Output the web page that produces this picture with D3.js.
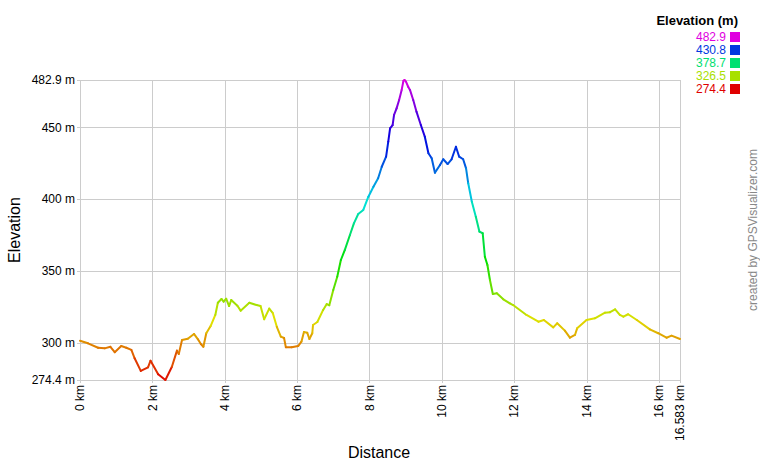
<!DOCTYPE html>
<html><head><meta charset="utf-8">
<script src="https://cdn.jsdelivr.net/npm/d3@7"></script>
<style>body{margin:0;background:#fff}svg{display:block;font-family:Arial,"Liberation Sans",sans-serif}</style>
</head><body><svg id="c" width="760" height="460"></svg>
<script>
const distKm = [0,0.22,0.50,0.68,0.84,0.96,1.14,1.28,1.42,1.51,1.68,1.88,1.95,2.16,2.36,2.54,2.68,2.73,2.82,2.98,3.15,3.26,3.34,3.41,3.49,3.61,3.74,3.81,3.91,3.97,4.04,4.12,4.18,4.35,4.44,4.68,4.88,4.99,5.09,5.23,5.33,5.44,5.55,5.64,5.69,5.85,6.03,6.12,6.19,6.28,6.34,6.42,6.44,6.56,6.72,6.82,6.89,7.00,7.11,7.21,7.32,7.46,7.57,7.69,7.83,7.97,8.11,8.24,8.34,8.46,8.52,8.57,8.64,8.68,8.75,8.82,8.89,8.94,8.97,9.01,9.07,9.12,9.21,9.30,9.42,9.53,9.63,9.72,9.81,9.95,10.04,10.16,10.27,10.39,10.48,10.59,10.67,10.73,10.83,10.94,11.04,11.13,11.19,11.26,11.33,11.41,11.52,11.70,11.88,11.97,12.34,12.67,12.82,13.08,13.19,13.40,13.54,13.68,13.74,14.00,14.23,14.51,14.65,14.79,14.92,15.02,15.15,15.39,15.75,15.98,16.21,16.35,16.583];
const elevM = [301.7,299.9,296.8,296.4,297.5,293.7,298.0,296.8,295.3,289.5,280.7,283.2,287.8,278.4,274.4,283.6,294.8,292.5,302.2,303.1,306.4,302.7,299.4,297.5,306.9,311.9,319.6,328.1,330.7,328.8,330.9,325.8,330.0,326.0,322.6,328.1,326.5,325.8,316.6,324.0,320.8,311.4,304.5,303.6,297.1,297.1,298.0,301.0,307.8,307.3,302.9,306.9,312.6,314.7,323.1,327.2,326.3,337.0,346.2,357.8,364.8,375.2,383.3,389.8,392.6,401.8,408.7,414.6,422.6,429.6,440.0,449.3,451.6,458.6,463.2,469.0,476.0,482.4,482.9,481.7,478.2,476.0,469.0,460.9,451.6,443.5,432.0,428.5,418.5,423.8,427.8,424.5,427.8,436.5,429.6,427.8,421.5,411.1,398.3,387.9,377.5,376.4,360.1,354.3,343.9,334.2,334.7,330.5,327.7,326.5,319.6,314.9,316.1,311.0,313.8,308.7,303.8,305.7,310.3,316.1,317.3,321.2,321.5,323.5,319.6,318.4,320.1,316.1,309.6,306.9,303.8,305.2,302.9];
const xTicks = [0,2,4,6,8,10,12,14,16,16.583];
const yTicks = [274.4,300,350,400,450,482.9];
const legendVals = [482.9,430.8,378.7,326.5,274.4];

const svg = d3.select("#c");
const W = 760, H = 460;
const m = {l:80, r:80, t:80, b:80};
const x = d3.scaleLinear().domain([0,16.583]).range([m.l, W-m.r]);
const y = d3.scaleLinear().domain([274.4,482.9]).range([H-m.b, m.t]);
const color = e => d3.hsl(300*(e-274.4)/(482.9-274.4), 1, 0.44).formatHex();

// grid
const g = svg.append("g");
g.selectAll("line.h").data(yTicks).join("line")
  .attr("x1", m.l-3).attr("x2", W-m.r).attr("y1", d=>Math.round(y(d))+0.5).attr("y2", d=>Math.round(y(d))+0.5)
  .attr("stroke","#cccccc").attr("stroke-width",1);
g.selectAll("line.v").data(xTicks).join("line")
  .attr("y1", m.t).attr("y2", H-m.b+3).attr("x1", d=>Math.round(x(d))+0.5).attr("x2", d=>Math.round(x(d))+0.5)
  .attr("stroke","#cccccc").attr("stroke-width",1);

// y labels
svg.append("g").selectAll("text").data(yTicks).join("text")
  .attr("x", m.l-5).attr("y", d=>y(d)).attr("dy","0.35em").attr("text-anchor","end")
  .attr("font-size",12).attr("fill","#000").text(d=>d+" m");
// x labels
svg.append("g").selectAll("text").data(xTicks).join("text")
  .attr("transform", d=>`translate(${x(d)},${H-m.b+5}) rotate(-90)`)
  .attr("dy","0.35em").attr("text-anchor","end")
  .attr("font-size",12).attr("fill","#000").text(d=>d+" km");

// titles
svg.append("text").attr("transform",`translate(20,230) rotate(-90)`).attr("text-anchor","middle")
  .attr("font-size",16).attr("fill","#000").text("Elevation");
svg.append("text").attr("x",379).attr("y",458).attr("text-anchor","middle")
  .attr("font-size",16).attr("fill","#000").text("Distance");
svg.append("text").attr("transform",`translate(757,230) rotate(-90)`).attr("text-anchor","middle")
  .attr("font-size",12).attr("fill","#888").text("created by GPSVisualizer.com");

// line segments coloured by elevation
const pts = distKm.map((d,i)=>({d, e:elevM[i]}));
const segs = d3.pairs(pts);
svg.append("g").selectAll("line").data(segs).join("line")
  .attr("x1", s=>x(s[0].d)).attr("y1", s=>y(s[0].e))
  .attr("x2", s=>x(s[1].d)).attr("y2", s=>y(s[1].e))
  .attr("stroke", s=>color((s[0].e+s[1].e)/2))
  .attr("stroke-width",2).attr("stroke-linecap","round");

// legend
svg.append("text").attr("x",738).attr("y",25).attr("text-anchor","end")
  .attr("font-size",13).attr("font-weight","bold").attr("fill","#000").text("Elevation (m)");
const lg = svg.append("g").selectAll("g").data(legendVals).join("g")
  .attr("transform",(d,i)=>`translate(0,${37+i*13})`);
lg.append("text").attr("x",726).attr("dy","0.35em").attr("text-anchor","end")
  .attr("font-size",12).attr("fill",d=>color(d)).text(d=>d.toFixed(1));
lg.append("rect").attr("x",730).attr("y",-5).attr("width",10).attr("height",10).attr("fill",d=>color(d));
</script></body></html>
